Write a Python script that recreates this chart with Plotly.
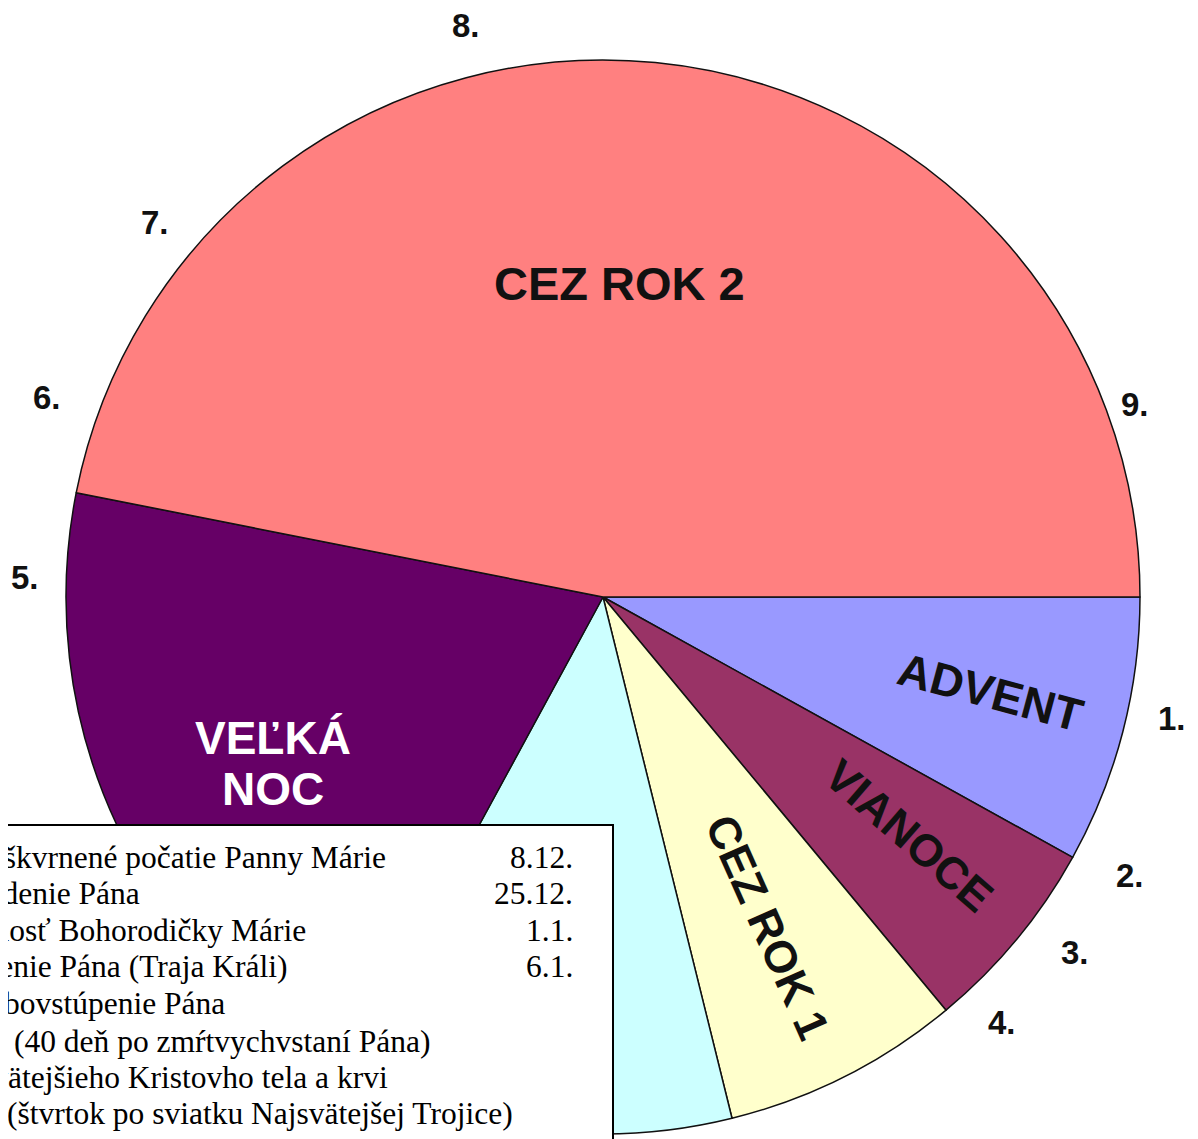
import plotly.graph_objects as go

W, H = 1198, 1139

# ---- data ----
periods = ["ADVENT", "VIANOCE", "CEZ ROK 1", "PÔSTNE OBDOBIE", "VEĽKÁ NOC", "CEZ ROK 2"]
degrees = [29.0, 21.3, 25.8, 42.4, 72.7, 168.8]
colors = ["#9999FF", "#993366", "#FFFFCC", "#CCFFFF", "#660066", "#FF8080"]

feast_numbers = ["1.", "2.", "3.", "4.", "5.", "6.", "7.", "8.", "9."]
feast_names = [
    "1. Nepoškvrnené počatie Panny Márie",
    "2. Narodenie Pána",
    "3. Slávnosť Bohorodičky Márie",
    "4. Zjavenie Pána (Traja Králi)",
    "5. Nanebovstúpenie Pána",
    "(40 deň po zmŕtvychvstaní Pána)",
    "6. Najsvätejšieho Kristovho tela a krvi",
    "(štvrtok po sviatku Najsvätejšej Trojice)",
]
feast_dates = ["8.12.", "25.12.", "1.1.", "6.1.", "", "", "", ""]

# ---- layout helpers (screen pixel -> paper); page body has an 8px margin ----
OX, OY = 8, 8

def px(x):
    return (x - OX) / W

def py(y):
    return 1 - (y - OY) / H

fig = go.Figure()
fig.add_trace(go.Pie(
    labels=periods, values=degrees, sort=False, direction="clockwise",
    rotation=90, textinfo="none", hoverinfo="label",
    marker=dict(colors=colors, line=dict(color="#111111", width=1.5)),
    domain=dict(x=[px(66), px(1140)], y=[py(1134), py(60)]),
    showlegend=False,
))

annotations = []
sans = "Liberation Sans, Arial, sans-serif"
serif = "Liberation Serif, Times New Roman, serif"

# slice labels
slice_label_pos = {
    "ADVENT": (990, 692, 15, 46, "#111111"),
    "VIANOCE": (909, 835, 41, 45, "#111111"),
    "CEZ ROK 1": (768, 927, 66, 45, "#111111"),
    "CEZ ROK 2": (619, 283, 0, 47, "#111111"),
}
for name, (x, y, ang, size, col) in slice_label_pos.items():
    annotations.append(dict(text=f"<b>{name}</b>", x=px(x), y=py(y), xref="paper", yref="paper",
                            xanchor="center", yanchor="middle", textangle=ang, showarrow=False,
                            font=dict(family=sans, size=size, color=col)))
vn_lines = periods[4].split(" ")
for txt, y in zip(vn_lines, [738, 789]):
    annotations.append(dict(text=f"<b>{txt}</b>", x=px(273), y=py(y), xref="paper", yref="paper",
                            xanchor="center", yanchor="middle", showarrow=False,
                            font=dict(family=sans, size=46, color="white")))

# feast numbers around the circle
num_pos = [(1172, 718), (1130, 875), (1075, 952), (1002, 1022), (25, 577),
           (47, 398), (155, 222), (466, 26), (1135, 405)]
for txt, (x, y) in zip(feast_numbers, num_pos):
    annotations.append(dict(text=f"<b>{txt}</b>", x=px(x), y=py(y), xref="paper", yref="paper",
                            xanchor="center", yanchor="middle", showarrow=False,
                            font=dict(family=sans, size=33, color="#111111")))

# legend box text
line_y = [857, 893, 930, 966, 1003, 1041, 1077, 1113]
line_right = [388, 142, 308, 290, 227, 432, 390, 515]
for txt, date, y, xr in zip(feast_names, feast_dates, line_y, line_right):
    annotations.append(dict(text=txt, x=px(xr), y=py(y), xref="paper", yref="paper",
                            xanchor="right", yanchor="middle", showarrow=False,
                            font=dict(family=serif, size=31.5, color="black")))
    if date:
        annotations.append(dict(text=date, x=px(575), y=py(y), xref="paper", yref="paper",
                                xanchor="right", yanchor="middle", showarrow=False,
                                font=dict(family=serif, size=31.5, color="black")))

fig.update_layout(
    width=W, height=H, margin=dict(l=0, r=0, t=0, b=0),
    paper_bgcolor="white", plot_bgcolor="white",
    annotations=annotations,
    shapes=[dict(type="rect", xref="paper", yref="paper", x0=-0.05, x1=px(613),
                 y0=-0.05, y1=py(825), fillcolor="white",
                 line=dict(color="black", width=2), layer="above")],
)
fig.write_html("out.html")
